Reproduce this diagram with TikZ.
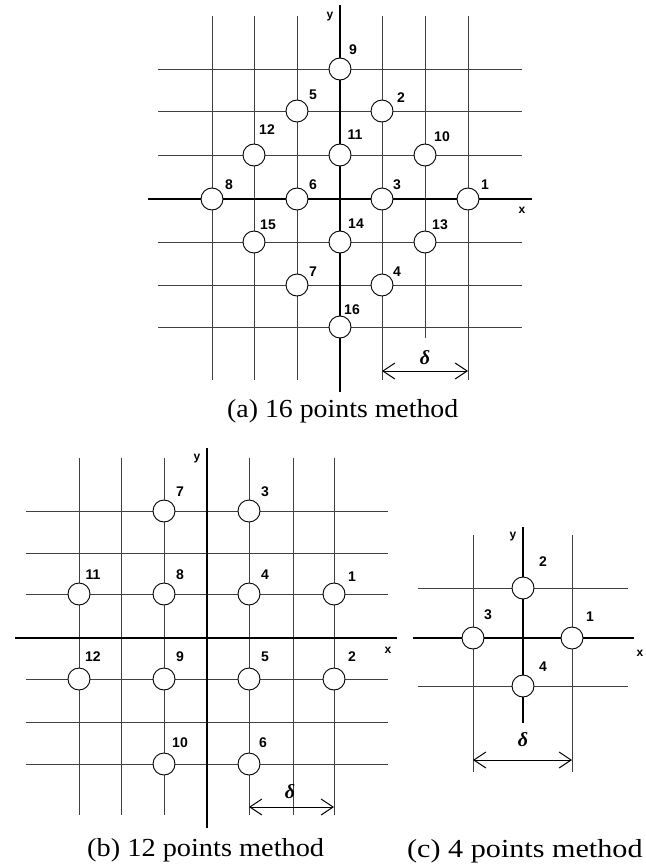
\documentclass[tikz,border=0pt]{standalone}
\usepackage{fontspec}
\setmainfont{Liberation Serif}
\newfontfamily\labfont{Liberation Sans}
\usetikzlibrary{arrows.meta}
\begin{document}
\begin{tikzpicture}[x=1pt,y=-1pt,
 gridline/.style={line width=0.7pt, black!75},
 axisline/.style={line width=1.8pt, black},
 pt/.style={circle, draw, line width=0.9pt, fill=white, minimum size=22pt, inner sep=0pt},
 num/.style={font=\labfont\bfseries\fontsize{14}{14}\selectfont, inner sep=0pt},
 axlab/.style={font=\labfont\bfseries\fontsize{12}{12}\selectfont, inner sep=0pt},
 captext/.style={anchor=base west, inner sep=0pt, font=\fontsize{26}{26}\selectfont},
 dimline/.style={line width=1pt, {Straight Barb[length=12pt,width=16pt]}-{Straight Barb[length=12pt,width=16pt]}},
 deltalab/.style={font=\fontsize{20}{20}\selectfont\bfseries\itshape, inner sep=0pt}]
\useasboundingbox (0,0) rectangle (645,867);

% ---------------- (a) 16 points method ----------------
\foreach \xx in {212,254,297,382,468} \draw[gridline] (\xx,16) -- (\xx,380);
\draw[gridline] (425,16) -- (425,338);
\foreach \yy in {69,111,155,242,285,327} \draw[gridline] (158,\yy) -- (522,\yy);
\draw[axisline] (148,199) -- (532,199);
\draw[axisline] (340,5) -- (340,392);
\node[axlab] (ax) at (522,210) {x};
\node[axlab] (ay) at (330,17) {y};

\node[pt] (a1) at (468,199) {};
\node[pt] (a2) at (382,111) {};
\node[pt] (a3) at (382,199) {};
\node[pt] (a4) at (382,285) {};
\node[pt] (a5) at (297,111) {};
\node[pt] (a6) at (297,199) {};
\node[pt] (a7) at (297,285) {};
\node[pt] (a8) at (212,199) {};
\node[pt] (a9) at (340,69) {};
\node[pt] (a10) at (425,155) {};
\node[pt] (a11) at (340,155) {};
\node[pt] (a12) at (254,155) {};
\node[pt] (a13) at (425,242) {};
\node[pt] (a14) at (340,242) {};
\node[pt] (a15) at (254,242) {};
\node[pt] (a16) at (340,327) {};

\node[num] (la1) at (485,185) {1};
\node[num] (la2) at (401,98) {2};
\node[num] (la3) at (397,185) {3};
\node[num] (la4) at (397,272) {4};
\node[num] (la5) at (313,95) {5};
\node[num] (la6) at (313,185) {6};
\node[num] (la7) at (313,272) {7};
\node[num] (la8) at (229,185) {8};
\node[num] (la9) at (353,50) {9};
\node[num] (la10) at (442,137) {10};
\node[num] (la11) at (355,135) {11};
\node[num] (la12) at (267,130) {12};
\node[num] (la13) at (440,225) {13};
\node[num] (la14) at (356,224) {14};
\node[num] (la15) at (268,225) {15};
\node[num] (la16) at (352,310) {16};

\coordinate (ad1) at (382,371);
\coordinate (ad2) at (468,371);
\draw[dimline] (ad1) -- (ad2);
\node[deltalab] (adl) at (425,358) {δ};
\node[captext] (capa) at (227,417) {\scalebox{1.07}[1]{(a) 16 points method}};

% ---------------- (b) 12 points method ----------------
\foreach \xx in {79,121,164,249,293,334} \draw[gridline] (\xx,458) -- (\xx,815);
\foreach \yy in {511,553,594,679,722,764} \draw[gridline] (26,\yy) -- (388,\yy);
\draw[axisline] (15,638) -- (397,638);
\draw[axisline] (207,448) -- (207,828);
\node[axlab] (bx) at (388,650) {x};
\node[axlab] (by) at (197,459) {y};

\node[pt] (b1) at (334,594) {};
\node[pt] (b2) at (334,679) {};
\node[pt] (b3) at (249,511) {};
\node[pt] (b4) at (249,594) {};
\node[pt] (b5) at (249,679) {};
\node[pt] (b6) at (249,764) {};
\node[pt] (b7) at (164,511) {};
\node[pt] (b8) at (164,594) {};
\node[pt] (b9) at (164,679) {};
\node[pt] (b10) at (164,764) {};
\node[pt] (b11) at (79,594) {};
\node[pt] (b12) at (79,679) {};

\node[num] (lb1) at (352,577) {1};
\node[num] (lb2) at (352,657) {2};
\node[num] (lb3) at (265,492) {3};
\node[num] (lb4) at (265,575) {4};
\node[num] (lb5) at (265,657) {5};
\node[num] (lb6) at (263,743) {6};
\node[num] (lb7) at (180,492) {7};
\node[num] (lb8) at (180,575) {8};
\node[num] (lb9) at (180,657) {9};
\node[num] (lb10) at (180,743) {10};
\node[num] (lb11) at (93,575) {11};
\node[num] (lb12) at (93,657) {12};

\coordinate (bd1) at (249,807);
\coordinate (bd2) at (334,807);
\draw[dimline] (bd1) -- (bd2);
\node[deltalab] (bdl) at (290,792) {δ};
\node[captext] (capb) at (87,856) {\scalebox{1.09}[1]{(b) 12 points method}};

% ---------------- (c) 4 points method ----------------
\foreach \xx in {473,572} \draw[gridline] (\xx,535) -- (\xx,772);
\foreach \yy in {588,686} \draw[gridline] (418,\yy) -- (628,\yy);
\draw[axisline] (413,638) -- (634,638);
\draw[axisline] (523,527) -- (523,723);
\node[axlab] (cx) at (640,653) {x};
\node[axlab] (cy) at (513,537) {y};

\node[pt] (c1) at (572,638) {};
\node[pt] (c2) at (523,588) {};
\node[pt] (c3) at (473,638) {};
\node[pt] (c4) at (523,686) {};

\node[num] (lc1) at (590,617) {1};
\node[num] (lc2) at (543,562) {2};
\node[num] (lc3) at (488,615) {3};
\node[num] (lc4) at (543,667) {4};

\coordinate (cd1) at (473,760);
\coordinate (cd2) at (572,760);
\draw[dimline] (cd1) -- (cd2);
\node[deltalab] (cdl) at (523,740) {δ};
\node[captext] (capc) at (407,857) {\scalebox{1.16}[1]{(c) 4 points method}};
\end{tikzpicture}
\end{document}
